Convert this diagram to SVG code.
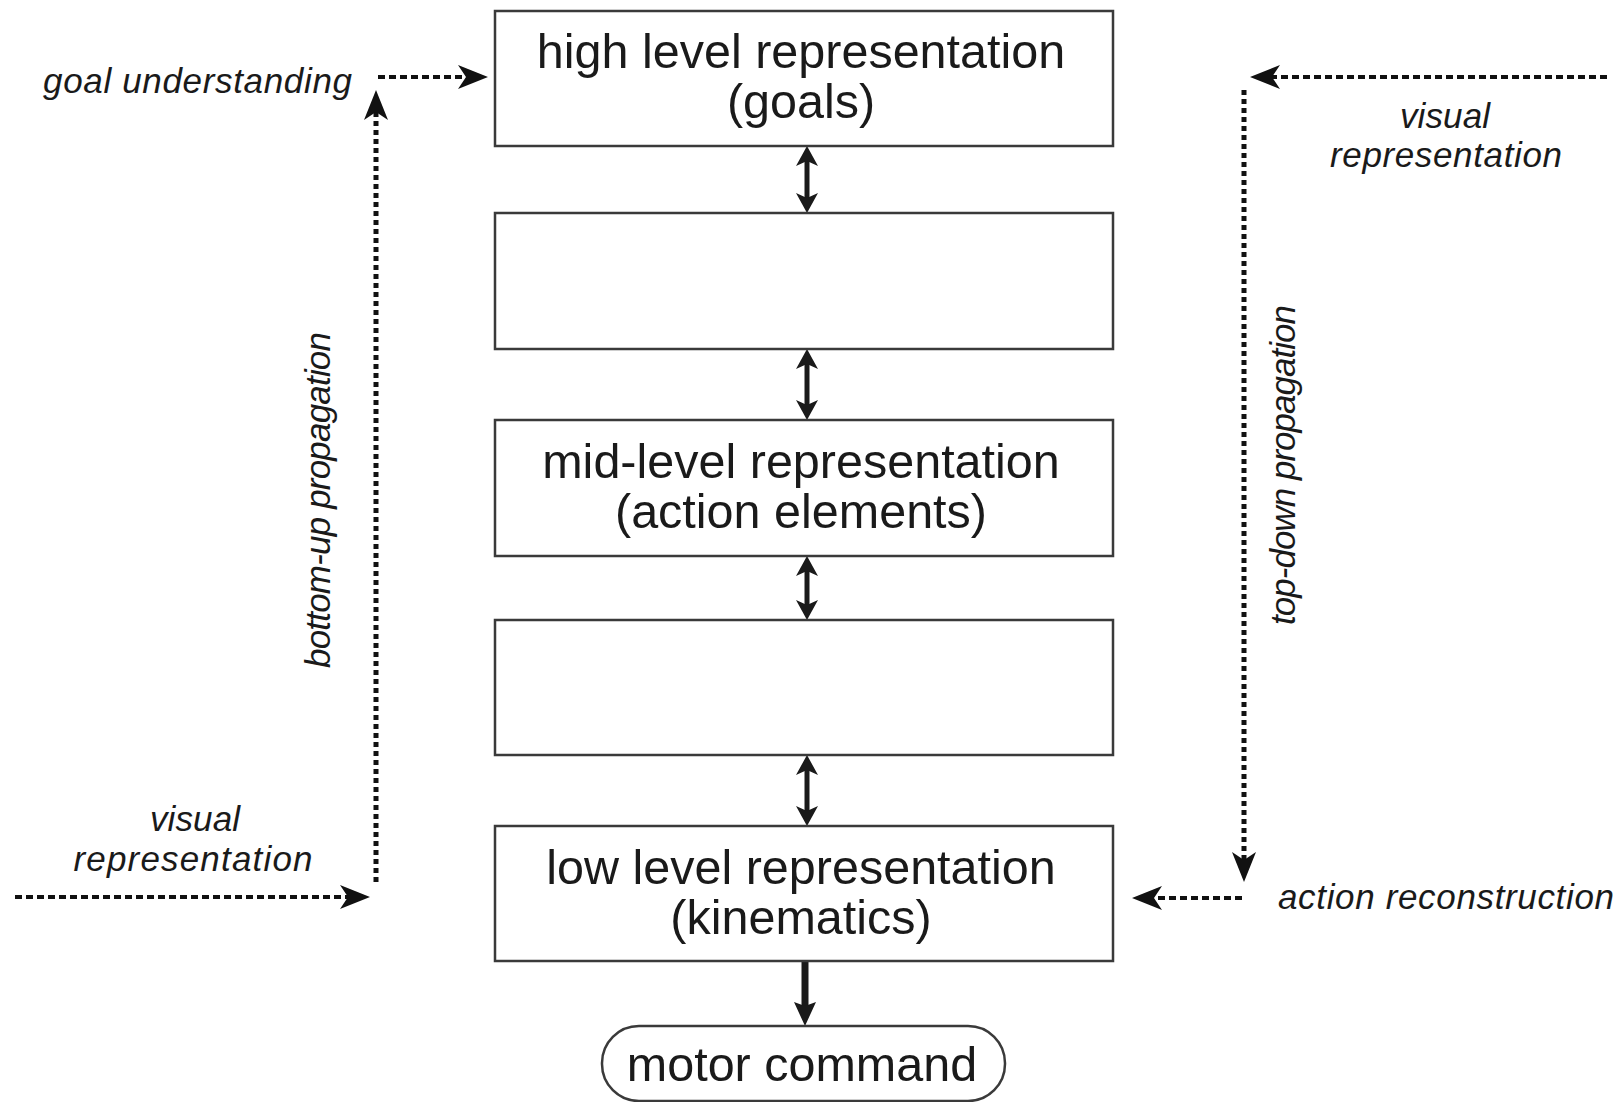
<svg xmlns="http://www.w3.org/2000/svg" width="1620" height="1102" viewBox="0 0 1620 1102">
  <style>
    .box { fill: #ffffff; stroke: #3a3a3a; stroke-width: 2.5; }
    .boxtext { font-family: "Liberation Sans", Arial, sans-serif; font-size: 48.5px; fill: #1a1a1a; text-anchor: middle; }
    .lbl { font-family: "Liberation Sans", Arial, sans-serif; font-style: italic; font-size: 35px; fill: #1a1a1a; }
    .mid { text-anchor: middle; }
    .dash { fill: none; stroke: #111111; stroke-width: 4; stroke-dasharray: 7 4; }
    .vdash { fill: none; stroke: #111111; stroke-width: 5; stroke-dasharray: 5 4; }
    .dbl { fill: none; stroke: #1a1a1a; stroke-width: 5; }
    .bold { fill: none; stroke: #1a1a1a; stroke-width: 7; }
  </style>
  <defs>
    <marker id="dhead" markerUnits="userSpaceOnUse" markerWidth="30" markerHeight="24" refX="8" refY="12" orient="auto" viewBox="0 0 30 24">
      <path d="M0,0 L30,12 L0,24 L8,12 z" fill="#111111"/>
    </marker>
    <marker id="bhead" markerUnits="userSpaceOnUse" markerWidth="20" markerHeight="22" refX="5" refY="11" orient="auto-start-reverse" viewBox="0 0 20 22">
      <path d="M0,0 L20,11 L0,22 L5,11 z" fill="#1a1a1a"/>
    </marker>
    <marker id="mhead" markerUnits="userSpaceOnUse" markerWidth="24" markerHeight="22" refX="4" refY="11" orient="auto" viewBox="0 0 24 22">
      <path d="M0,0 L24,11 L0,22 L4,11 z" fill="#1a1a1a"/>
    </marker>
  </defs>

  <g id="connectors">
    <!-- double arrows between boxes -->
    <line class="dbl" x1="807" y1="161" x2="807" y2="198" marker-start="url(#bhead)" marker-end="url(#bhead)"/>
    <line class="dbl" x1="807" y1="364" x2="807" y2="405" marker-start="url(#bhead)" marker-end="url(#bhead)"/>
    <line class="dbl" x1="807" y1="571" x2="807" y2="605" marker-start="url(#bhead)" marker-end="url(#bhead)"/>
    <line class="dbl" x1="807" y1="770" x2="807" y2="811" marker-start="url(#bhead)" marker-end="url(#bhead)"/>
    <!-- motor command arrow -->
    <line class="bold" x1="805" y1="961" x2="805" y2="1006" marker-end="url(#mhead)"/>
    <!-- left side -->
    <line class="dash" x1="378" y1="77" x2="466" y2="77" marker-end="url(#dhead)"/>
    <line class="vdash" x1="376" y1="882" x2="376" y2="112" marker-end="url(#dhead)"/>
    <line class="dash" x1="15" y1="897" x2="348" y2="897" marker-end="url(#dhead)"/>
    <!-- right side -->
    <line class="dash" x1="1607" y1="77" x2="1272" y2="77" marker-end="url(#dhead)"/>
    <line class="vdash" x1="1244" y1="90" x2="1244" y2="860" marker-end="url(#dhead)"/>
    <line class="dash" x1="1242" y1="898" x2="1154" y2="898" marker-end="url(#dhead)"/>
  </g>

  <g id="node-high">
    <rect class="box" x="495" y="11" width="618" height="135"/>
    <text class="boxtext" x="801" y="68">high level representation</text>
    <text class="boxtext" x="801" y="118">(goals)</text>
  </g>
  <g id="node-empty1">
    <rect class="box" x="495" y="213" width="618" height="136"/>
  </g>
  <g id="node-mid">
    <rect class="box" x="495" y="420" width="618" height="136"/>
    <text class="boxtext" x="801" y="478">mid-level representation</text>
    <text class="boxtext" x="801" y="528">(action elements)</text>
  </g>
  <g id="node-empty2">
    <rect class="box" x="495" y="620" width="618" height="135"/>
  </g>
  <g id="node-low">
    <rect class="box" x="495" y="826" width="618" height="135"/>
    <text class="boxtext" x="801" y="884">low level representation</text>
    <text class="boxtext" x="801" y="934">(kinematics)</text>
  </g>
  <g id="node-motor">
    <rect class="box" x="602" y="1026" width="403" height="75" rx="37" ry="37"/>
    <text class="boxtext" x="802" y="1081">motor command</text>
  </g>

  <g id="labels">
    <text class="lbl" x="43" y="93" textLength="309" lengthAdjust="spacing">goal understanding</text>
    <text class="lbl mid" x="195" y="831" textLength="90" lengthAdjust="spacing">visual</text>
    <text class="lbl mid" x="193" y="871" textLength="239" lengthAdjust="spacing">representation</text>
    <text class="lbl mid" x="1445" y="128" textLength="90" lengthAdjust="spacing">visual</text>
    <text class="lbl mid" x="1446" y="167" textLength="232" lengthAdjust="spacing">representation</text>
    <text class="lbl" x="1278" y="909" textLength="336" lengthAdjust="spacing">action reconstruction</text>
    <text class="lbl mid" transform="translate(330,500) rotate(-90)" textLength="336" lengthAdjust="spacing">bottom-up propagation</text>
    <text class="lbl mid" transform="translate(1295,465) rotate(-90)" textLength="320" lengthAdjust="spacing">top-down propagation</text>
  </g>
</svg>
